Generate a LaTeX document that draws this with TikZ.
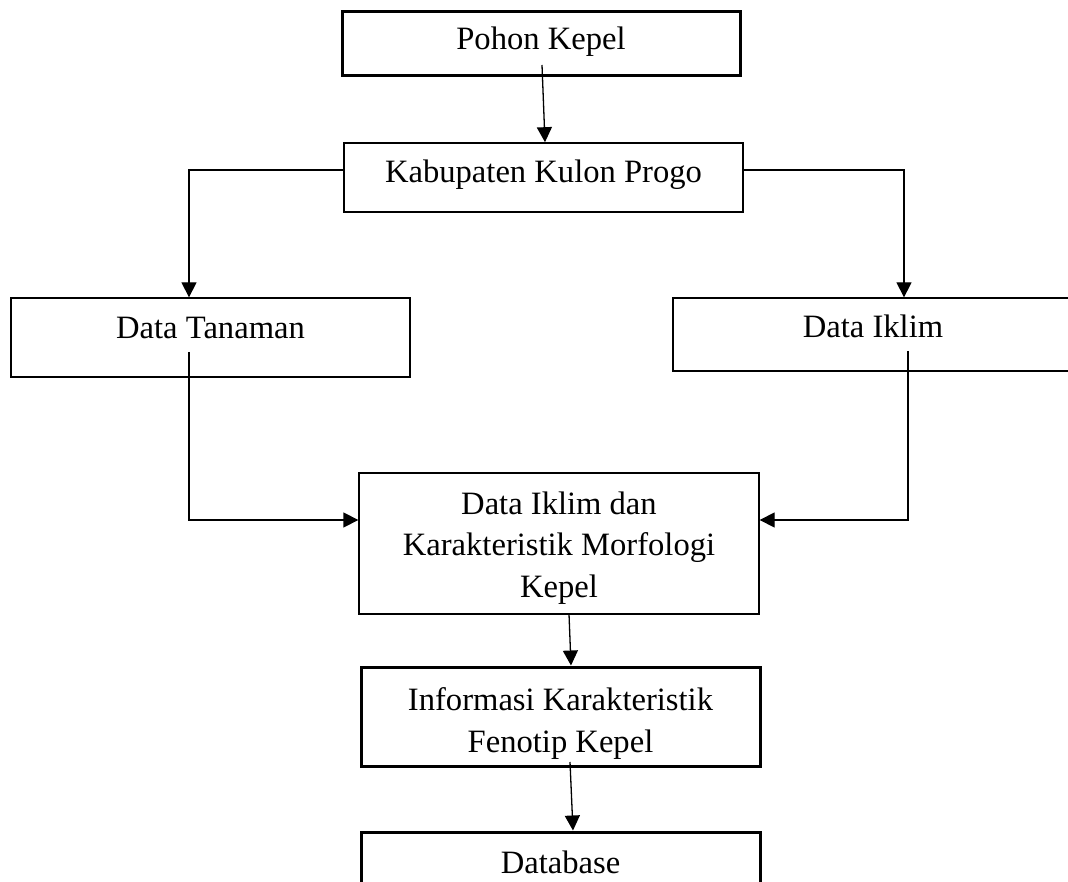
\documentclass[tikz,border=0pt]{standalone}
\usepackage{fontspec}
\setmainfont{Liberation Serif}
\usetikzlibrary{arrows.meta,calc}
\begin{document}
\begin{tikzpicture}[x=1pt,y=-1pt,
  box/.style={draw=black, line width=1.3pt, inner xsep=0pt, inner ysep=0pt, align=center,
    anchor=base, font=\fontsize{32.6}{41.5}\selectfont},
  thickbox/.style={box, line width=3pt},
  conn/.style={draw=black, line width=1.3pt},
  arr/.style={conn, -{Triangle[length=15pt,width=15pt]}}]
\useasboundingbox (0,0) rectangle (1068,882);
\clip (0,0) rectangle (1068,882);
% boxes (placed at the baseline of their last line of text)
\node[thickbox, minimum width=398pt, text height=38pt, text depth=26pt] (pohon) at (541,50) {Pohon Kepel};
\node[box, line width=1.6pt, minimum width=399pt, text height=40pt, text depth=29pt] (kab) at (543.5,183) {Kabupaten Kulon Progo};
\node[box, minimum width=399pt, text height=41pt, text depth=38pt] (tan) at (210.5,339) {Data Tanaman};
\node[box, minimum width=400pt, text height=40pt, text depth=33pt] (iklim) at (873,338) {Data Iklim};
\node[box, minimum width=400pt, text height=124pt, text depth=17pt] (dan) at (559,597) {Data Iklim dan\\Karakteristik Morfologi\\Kepel};
\node[thickbox, minimum width=399pt, text height=85pt, text depth=14pt] (info) at (560.5,752) {Informasi Karakteristik\\Fenotip Kepel};
\node[thickbox, minimum width=399pt, text height=41pt, text depth=40pt] (db) at (560.5,873) {Database};
% free start points inside boxes
\coordinate (s1) at (542,65);
\coordinate (s2) at (189,352);
\coordinate (s3) at (908,351);
\coordinate (s4) at (569,614);
\coordinate (s5) at (570,762);
% connectors
\draw[arr] (s1) -- ($(kab.north)+(1.5,0)$);
\draw[arr] ($(kab.west)+(0,-7.5)$) -| ($(tan.north)+(-21.5,0)$);
\draw[arr] ($(kab.east)+(0,-7.5)$) -| ($(iklim.north)+(31,0)$);
\draw[arr] (s2) |- ($(dan.west)+(0,-23.5)$);
\draw[arr] (s3) |- ($(dan.east)+(0,-23.5)$);
\draw[arr] (s4) -- ($(info.north)+(10.5,0)$);
\draw[arr] (s5) -- ($(db.north)+(12.5,0)$);
\end{tikzpicture}
\end{document}
